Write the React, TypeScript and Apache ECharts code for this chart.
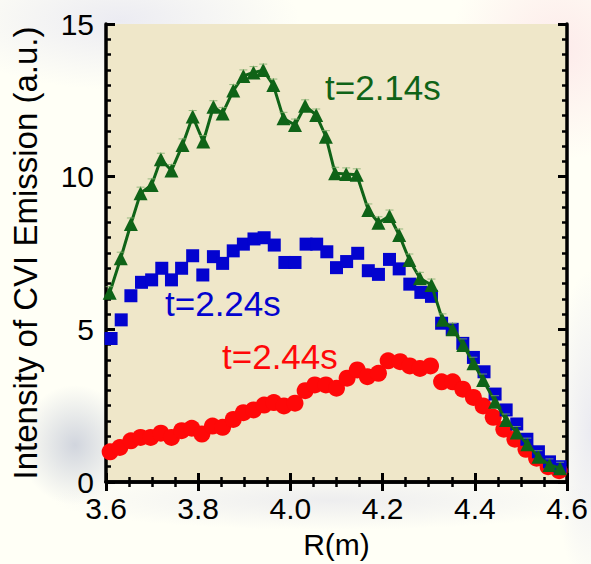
import React, { useEffect, useRef } from "react";
import * as echarts from "echarts";

// Radial position R (m) and CVI emission intensity (a.u.) for each time slice
const greenR = [3.608, 3.632, 3.654, 3.675, 3.699, 3.719, 3.742, 3.766, 3.788, 3.811, 3.833, 3.853, 3.876, 3.898, 3.92, 3.941, 3.963, 3.985, 4.01, 4.032, 4.056, 4.077, 4.097, 4.121, 4.144, 4.169, 4.191, 4.215, 4.236, 4.258, 4.281, 4.306, 4.33, 4.352, 4.375, 4.397, 4.418, 4.444, 4.468, 4.491, 4.514, 4.538, 4.562, 4.585];
const greenI = [6.2, 7.33, 8.45, 9.46, 9.73, 10.57, 10.2, 11.04, 11.97, 11.15, 12.29, 12.07, 12.82, 13.3, 13.41, 13.49, 13.0, 11.91, 11.69, 12.32, 12.02, 11.31, 10.11, 10.09, 10.06, 8.91, 8.49, 8.71, 8.09, 7.27, 6.67, 6.45, 5.31, 5.0, 4.49, 3.89, 3.34, 2.63, 2.03, 1.62, 1.24, 0.83, 0.56, 0.45];

const blueR = [3.611, 3.633, 3.654, 3.677, 3.699, 3.721, 3.742, 3.764, 3.788, 3.81, 3.833, 3.853, 3.876, 3.898, 3.921, 3.943, 3.965, 3.988, 4.01, 4.034, 4.057, 4.079, 4.1, 4.122, 4.146, 4.169, 4.191, 4.215, 4.236, 4.259, 4.283, 4.306, 4.328, 4.351, 4.374, 4.397, 4.42, 4.444, 4.468, 4.491, 4.513, 4.538, 4.562, 4.585];
const blueI = [4.7, 5.31, 6.1, 6.54, 6.62, 7.0, 6.62, 7.0, 7.41, 6.78, 7.38, 7.16, 7.57, 7.79, 7.96, 8.0, 7.76, 7.19, 7.19, 7.79, 7.79, 7.54, 7.02, 7.22, 7.49, 6.92, 6.8, 7.29, 6.98, 6.48, 6.21, 6.08, 5.2, 5.0, 4.54, 4.08, 3.61, 2.88, 2.36, 1.9, 1.4, 0.99, 0.66, 0.5];

const redR = [3.609, 3.63, 3.654, 3.675, 3.697, 3.719, 3.742, 3.764, 3.786, 3.808, 3.831, 3.853, 3.876, 3.898, 3.92, 3.943, 3.964, 3.986, 4.01, 4.032, 4.053, 4.077, 4.1, 4.123, 4.145, 4.167, 4.191, 4.212, 4.238, 4.259, 4.281, 4.304, 4.328, 4.352, 4.374, 4.397, 4.418, 4.44, 4.463, 4.487, 4.511, 4.534, 4.559, 4.583];
const redI = [0.99, 1.13, 1.35, 1.46, 1.46, 1.6, 1.46, 1.68, 1.76, 1.57, 1.83, 1.79, 2.05, 2.27, 2.36, 2.52, 2.6, 2.49, 2.58, 2.99, 3.18, 3.18, 3.07, 3.4, 3.67, 3.45, 3.56, 3.97, 3.94, 3.8, 3.72, 3.8, 3.28, 3.28, 3.04, 2.77, 2.49, 2.12, 1.73, 1.4, 1.07, 0.78, 0.5, 0.37];

const seriesLabels = ["t=2.14s", "t=2.24s", "t=2.44s"];
const xRange = [3.6, 4.6];
const yRange = [0, 15];

const pairs = (xs: number[], ys: number[]) => xs.map((x, i) => [x, ys[i]]);

const FONT = "Arial, 'Liberation Sans', Helvetica, sans-serif";
const GREEN = "#0f6317";
const CAP_GREEN = "#7fae6c";
const BLUE = "#0303cf";
const RED = "#ff0808";

// faint washed-out tint that fades to transparent at its rim
const wash = (rgb: string, a: number) => ({
  type: "radial", x: 0.5, y: 0.5, r: 0.5,
  colorStops: [
    { offset: 0, color: `rgba(${rgb},${a})` },
    { offset: 1, color: `rgba(${rgb},0)` },
  ],
});

export default function App() {
  const ref = useRef<HTMLDivElement>(null);

  useEffect(() => {
    if (!ref.current) return;
    const chart = echarts.init(ref.current, undefined, { renderer: "svg" });

    const axisLine = { show: true, lineStyle: { color: "#000", width: 3.5 } };
    const axisTick = { show: true, inside: true, length: 9, lineStyle: { color: "#000", width: 3 } };
    const minorTick = { show: true, length: 5, lineStyle: { color: "#000", width: 2.5 } };
    const tickLabel = { color: "#000", fontSize: 30, fontFamily: FONT };

    chart.setOption({
      animation: false,
      backgroundColor: "#fffff6",
      graphic: [
        // soft background wash around the frame
        { type: "ellipse", shape: { cx: 120, cy: 20, rx: 180, ry: 70 }, style: { fill: wash("200,200,235", 0.35) }, z: -10, silent: true },
        { type: "ellipse", shape: { cx: 560, cy: 50, rx: 110, ry: 110 }, style: { fill: wash("250,210,220", 0.45) }, z: -10, silent: true },
        { type: "ellipse", shape: { cx: 75, cy: 445, rx: 55, ry: 60 }, style: { fill: wash("140,150,185", 0.4) }, z: -10, silent: true },
        { type: "ellipse", shape: { cx: 330, cy: 500, rx: 280, ry: 30 }, style: { fill: wash("205,205,225", 0.35) }, z: -10, silent: true },
        { type: "ellipse", shape: { cx: 591, cy: 430, rx: 40, ry: 160 }, style: { fill: wash("210,210,235", 0.45) }, z: -10, silent: true },
        {
          type: "text", left: 325, top: 70, z: 100,
          style: { text: seriesLabels[0], fill: GREEN, font: `35px ${FONT}` },
        },
        {
          type: "text", left: 165, top: 286, z: 100,
          style: { text: seriesLabels[1], fill: BLUE, font: `35px ${FONT}` },
        },
        {
          type: "text", left: 222, top: 339, z: 100,
          style: { text: seriesLabels[2], fill: RED, font: `35px ${FONT}` },
        },
      ],
      grid: {
        left: 106, right: 24, top: 24, bottom: 82,
        outerBoundsMode: "none", containLabel: false,
        show: true, backgroundColor: "#efe7c9", borderWidth: 0,
      },
      xAxis: [
        {
          type: "value", min: xRange[0], max: xRange[1], interval: 0.2, position: "bottom",
          name: "R(m)", nameLocation: "middle", nameGap: 47,
          nameTextStyle: { color: "#000", fontSize: 30, fontFamily: FONT },
          axisLine, axisTick, minorTick: { ...minorTick, splitNumber: 4 },
          axisLabel: { ...tickLabel, margin: 11, formatter: (v: number) => v.toFixed(1) },
          splitLine: { show: false },
        },
        {
          type: "value", min: xRange[0], max: xRange[1], interval: 0.2, position: "top",
          axisLine, axisTick, minorTick: { ...minorTick, splitNumber: 4 },
          axisLabel: { show: false }, splitLine: { show: false },
        },
      ],
      yAxis: [
        {
          type: "value", min: yRange[0], max: yRange[1], interval: 5, position: "left",
          name: "Intensity of CVI Emission (a.u.)", nameLocation: "middle", nameGap: 64,
          nameTextStyle: { color: "#000", fontSize: 33, fontFamily: FONT },
          axisLine, axisTick, minorTick: { ...minorTick, splitNumber: 10 },
          axisLabel: { ...tickLabel, margin: 12 },
          splitLine: { show: false },
        },
        {
          type: "value", min: yRange[0], max: yRange[1], interval: 5, position: "right",
          axisLine, axisTick, minorTick: { ...minorTick, splitNumber: 10 },
          axisLabel: { show: false }, splitLine: { show: false },
        },
      ],
      series: [
        {
          name: seriesLabels[2], type: "scatter", data: pairs(redR, redI),
          symbol: "circle", symbolSize: 17, itemStyle: { color: RED, opacity: 1 }, z: 2,
        },
        {
          name: seriesLabels[1], type: "scatter", data: pairs(blueR, blueI),
          symbol: "rect", symbolSize: 13, itemStyle: { color: BLUE, opacity: 1 }, z: 3,
        },
        {
          name: seriesLabels[0], type: "line", data: pairs(greenR, greenI),
          symbol: "triangle", symbolSize: 14, showSymbol: true,
          lineStyle: { color: GREEN, width: 3 }, itemStyle: { color: GREEN, opacity: 1 }, z: 4,
        },
        {
          // faint caps at the tip of each triangle
          name: "caps", type: "custom", data: pairs(greenR, greenI), z: 5, silent: true,
          renderItem: (_params: any, api: any) => {
            const p = api.coord([api.value(0), api.value(1)]);
            return {
              type: "line",
              shape: { x1: p[0] - 4, y1: p[1] - 6, x2: p[0] + 4, y2: p[1] - 6 },
              style: { stroke: CAP_GREEN, lineWidth: 1, opacity: 0.8 },
            };
          },
        },
      ],
    });

    return () => chart.dispose();
  }, []);

  return (
    <div
      ref={ref}
      style={{ position: "fixed", left: 0, top: 0, width: 591, height: 564 }}
    />
  );
}
